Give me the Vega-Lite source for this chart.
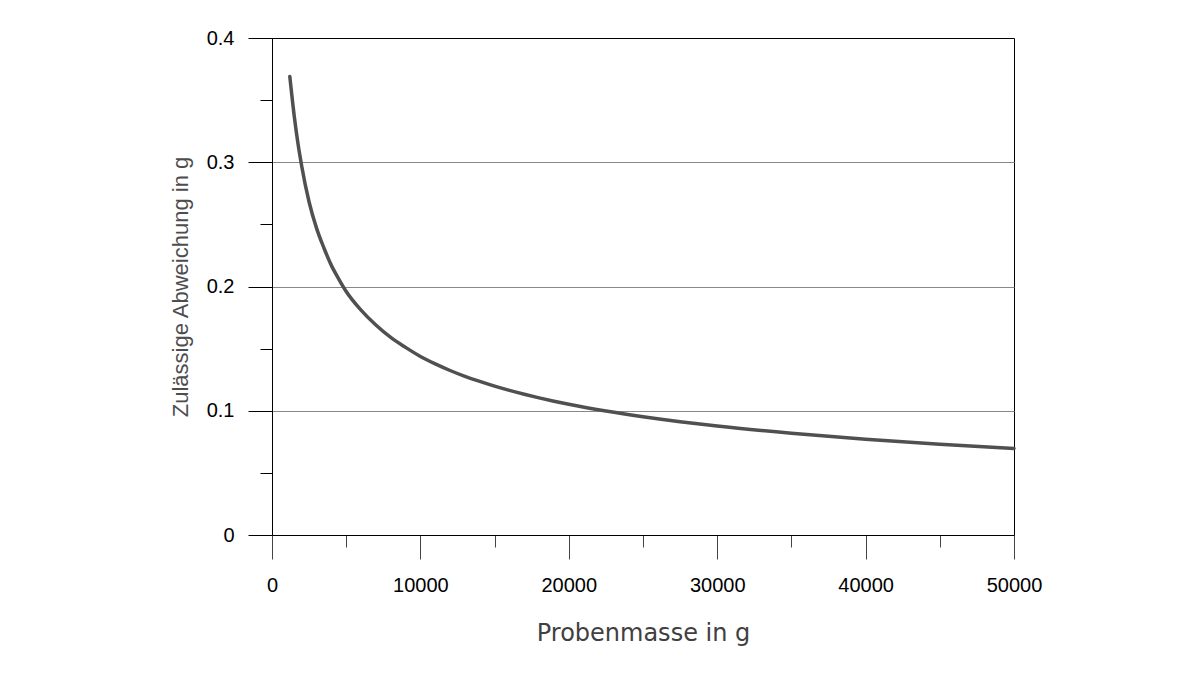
{
  "$schema": "https://vega.github.io/schema/vega-lite/v6.json",
  "autosize": {"type": "none"},
  "padding": {"left": 272, "top": 38, "right": 185, "bottom": 140},
  "width": 742,
  "height": 497,
  "background": "white",
  "config": {
    "view": {"stroke": "black", "strokeWidth": 1},
    "axis": {"labelFont": "Liberation Sans", "labelFontSize": 20, "labelColor": "black", "domainColor": "black", "tickColor": "black", "gridColor": "#888888", "gridWidth": 1}
  },
  "data": {
    "values": [
      {"m": 1200, "d": 0.369},
      {"m": 1500, "d": 0.337},
      {"m": 1750, "d": 0.315},
      {"m": 2000, "d": 0.297},
      {"m": 2500, "d": 0.268},
      {"m": 3000, "d": 0.247},
      {"m": 3500, "d": 0.231},
      {"m": 4000, "d": 0.217},
      {"m": 4500, "d": 0.206},
      {"m": 5000, "d": 0.196},
      {"m": 6000, "d": 0.181},
      {"m": 7000, "d": 0.169},
      {"m": 8000, "d": 0.159},
      {"m": 9000, "d": 0.151},
      {"m": 10000, "d": 0.1437},
      {"m": 11000, "d": 0.1377},
      {"m": 12000, "d": 0.1324},
      {"m": 13000, "d": 0.1277},
      {"m": 14000, "d": 0.1236},
      {"m": 15000, "d": 0.1198},
      {"m": 16000, "d": 0.1164},
      {"m": 17000, "d": 0.1133},
      {"m": 18000, "d": 0.1104},
      {"m": 19000, "d": 0.1077},
      {"m": 20000, "d": 0.1052},
      {"m": 22500, "d": 0.0998},
      {"m": 25000, "d": 0.0952},
      {"m": 27500, "d": 0.0912},
      {"m": 30000, "d": 0.0877},
      {"m": 35000, "d": 0.0819},
      {"m": 40000, "d": 0.0770},
      {"m": 45000, "d": 0.0731},
      {"m": 50000, "d": 0.0697}
    ]
  },
  "mark": {"type": "line", "color": "#505050", "strokeWidth": 3.5, "strokeCap": "round", "interpolate": "monotone", "clip": false},
  "encoding": {
    "x": {
      "field": "m", "type": "quantitative",
      "scale": {"domain": [0, 50000], "nice": false, "zero": true},
      "axis": {
        "title": "Probenmasse in g",
        "titleFont": "DejaVu Sans", "titleFontSize": 24, "titleFontWeight": "normal", "titleColor": "#404040", "titlePadding": 26,
        "values": [0, 5000, 10000, 15000, 20000, 25000, 30000, 35000, 40000, 45000, 50000],
        "format": "d",
        "labelExpr": "datum.value % 10000 == 0 ? datum.label : ''",
        "tickSize": {"condition": {"test": "datum.value % 10000 != 0", "value": 12}, "value": 24},
        "tickColor": "#444444",
        "labelPadding": 16,
        "labelFlush": false,
        "labelOverlap": false,
        "grid": false
      }
    },
    "y": {
      "field": "d", "type": "quantitative",
      "scale": {"domain": [0, 0.4], "nice": false},
      "axis": {
        "title": "Zulässige Abweichung in g",
        "titleFont": "Liberation Sans", "titleFontSize": 22, "titleFontWeight": "normal", "titleColor": "#4d4d4d", "titlePadding": 14,
        "values": [0, 0.05, 0.1, 0.15, 0.2, 0.25, 0.3, 0.35, 0.4],
        "format": ".1~f",
        "labelExpr": "abs(datum.value*10 - round(datum.value*10)) < 0.001 ? datum.label : ''",
        "tickSize": {"condition": {"test": "abs(datum.value*10 - round(datum.value*10)) > 0.001", "value": 12}, "value": 24},
        "labelPadding": 14,
        "labelFlush": false,
        "labelOverlap": false,
        "grid": true,
        "gridOpacity": {"condition": {"test": "abs(datum.value*10 - round(datum.value*10)) < 0.001 && datum.value > 0.05 && datum.value < 0.35", "value": 1}, "value": 0}
      }
    }
  }
}
